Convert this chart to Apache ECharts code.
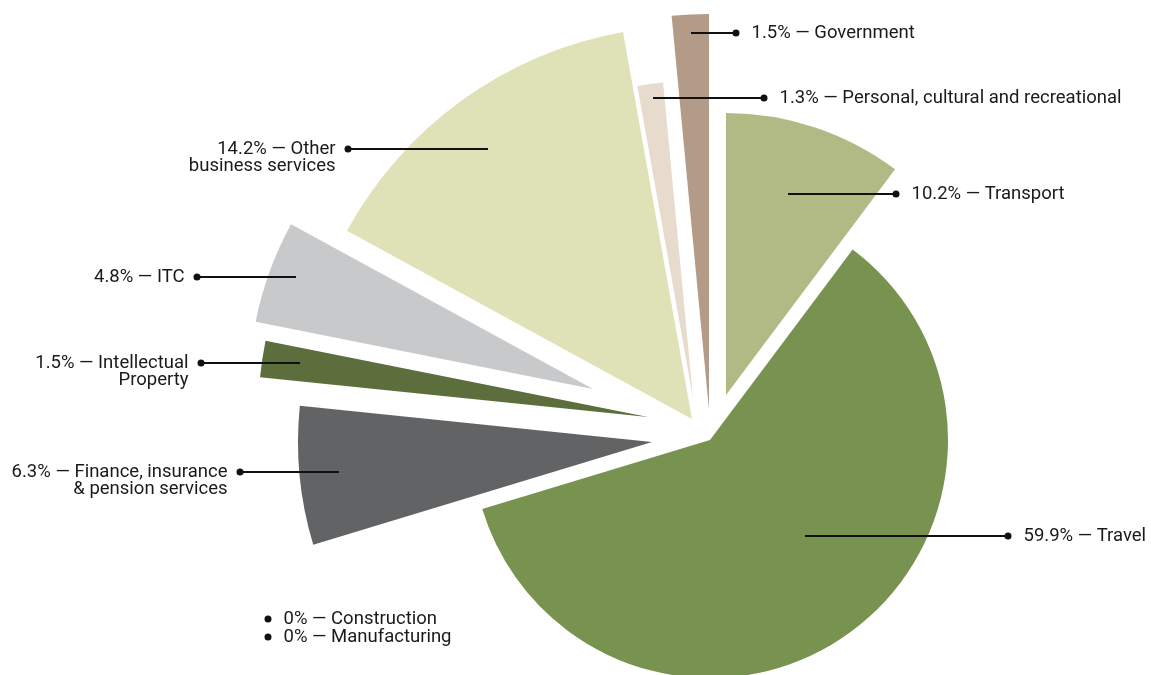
<!DOCTYPE html>
<html>
<head>
<meta charset="utf-8">
<script src="https://cdn.jsdelivr.net/npm/echarts@6/dist/echarts.min.js"></script>
<style>
  html, body { margin: 0; padding: 0; background: #ffffff; }
  #chart { width: 1151px; height: 675px; }
</style>
</head>
<body>
<div id="chart"></div>
<script>
// ---- data ----
const categories = ['Transport', 'Travel', 'Construction', 'Manufacturing',
  'Finance, insurance & pension services', 'Intellectual Property', 'ITC',
  'Other business services', 'Personal, cultural and recreational', 'Government'];
const shares = [10.2, 59.9, 0, 0, 6.3, 1.5, 4.8, 14.2, 1.3, 1.5];
const labelNames = ['Transport', 'Travel', 'Construction', 'Manufacturing',
  'Finance, insurance\n& pension services', 'Intellectual\nProperty', 'ITC',
  'Other\nbusiness services', 'Personal, cultural and recreational', 'Government'];

// ---- styling / layout ----
const colors = ['#b1b985', '#789250', '#789250', '#789250', '#626365',
  '#5b6e3c', '#c8c9cb', '#dfe1b7', '#e6dbcd', '#b39b88'];
// apex (pie centre) of each exploded slice, and its radius
const sliceCenters = [[726, 395], [710, 440], [710, 440], [710, 440], [652, 442],
  [648, 417], [593, 389], [692, 419], [693, 398], [709, 410]];
const sliceRadii = [282, 238, 238, 238, 354, 390, 344, 393, 317, 396];
// label anchor: [dotX, dotY, lineStartX (null = no line), side]
const labelAnchors = [[896, 194, 788, 'r'], [1008, 536, 805, 'r'], [268, 619, null, 'r'],
  [268, 637, null, 'r'], [240, 472, 339, 'l'], [201, 363, 300, 'l'], [197, 277, 296, 'l'],
  [348, 149, 488, 'l'], [764, 98, 653, 'r'], [736, 33, 691, 'r']];

const LH = 17;
const DOT = 7;
const GAP_R = 12;
const GAP_L = 9;
const TEXT_COLOR = '#1a1a1a';

function labelText(j) {
  const lines = (shares[j] + '% \u2014 ' + labelNames[j]).split('\n');
  if (labelAnchors[j][3] === 'r') {
    return lines.map((l, k) => (k === 0 ? '{d|}{gr|}' : '{spr|}') + '{t|' + l + '}').join('\n');
  }
  return lines.map((l, k) => '{t|' + l + '}' + (k === 0 ? '{gl|}{d|}' : '{spl|}')).join('\n');
}

const rich = {
  t: { fontFamily: 'Roboto', fontSize: 18.5, color: TEXT_COLOR, lineHeight: LH },
  d: { width: DOT, height: DOT, borderRadius: DOT / 2, backgroundColor: '#111', lineHeight: LH },
  gr: { width: GAP_R, height: DOT, lineHeight: LH },
  gl: { width: GAP_L, height: DOT, lineHeight: LH },
  spr: { width: GAP_R + DOT, height: DOT, lineHeight: LH },
  spl: { width: GAP_L + DOT, height: DOT, lineHeight: LH }
};

// one pie series per slice (each exploded slice has its own apex and radius)
const sliceSeries = categories.map((cat, i) => ({
  type: 'pie',
  z: 2,
  center: sliceCenters[i],
  radius: [0, sliceRadii[i]],
  startAngle: 90,
  clockwise: true,
  silent: true,
  animation: false,
  emphasis: { disabled: true },
  label: { show: false },
  labelLine: { show: false },
  data: categories.map((c, j) => ({
    name: c,
    value: shares[j],
    itemStyle: { color: j === i ? colors[j] : 'rgba(0,0,0,0)', borderWidth: 0 }
  }))
}));

// transparent overlay pie that carries the labels and leader lines above the slices
const labelSeries = {
  type: 'pie',
  z: 5,
  center: sliceCenters[1],
  radius: [0, sliceRadii[1]],
  startAngle: 90,
  clockwise: true,
  avoidLabelOverlap: false,
  silent: true,
  animation: false,
  minShowLabelAngle: 0,
  emphasis: { disabled: true },
  label: {
    show: true,
    position: 'outside',
    formatter: p => labelText(p.dataIndex),
    rich: rich
  },
  labelLine: {
    showAbove: true,
    length: 0, length2: 0, smooth: false,
    lineStyle: { color: '#111', width: 2 }
  },
  labelLayout: p => {
    const a = labelAnchors[p.dataIndex];
    const right = a[3] === 'r';
    const out = {
      x: right ? a[0] - DOT / 2 : a[0] + DOT / 2,
      y: a[1] - LH / 2,
      align: right ? 'left' : 'right',
      verticalAlign: 'top'
    };
    if (a[2] != null) {
      out.labelLinePoints = [[a[2], a[1]], [(a[2] + a[0]) / 2, a[1]], [a[0], a[1]]];
    }
    return out;
  },
  data: categories.map((c, j) => ({
    name: c,
    value: shares[j],
    itemStyle: { color: 'rgba(0,0,0,0)', borderWidth: 0 },
    labelLine: { show: labelAnchors[j][2] != null }
  }))
};

const chart = echarts.init(document.getElementById('chart'), null, { renderer: 'canvas' });
chart.setOption({
  backgroundColor: '#ffffff',
  animation: false,
  series: sliceSeries.concat([labelSeries])
});
</script>
</body>
</html>
